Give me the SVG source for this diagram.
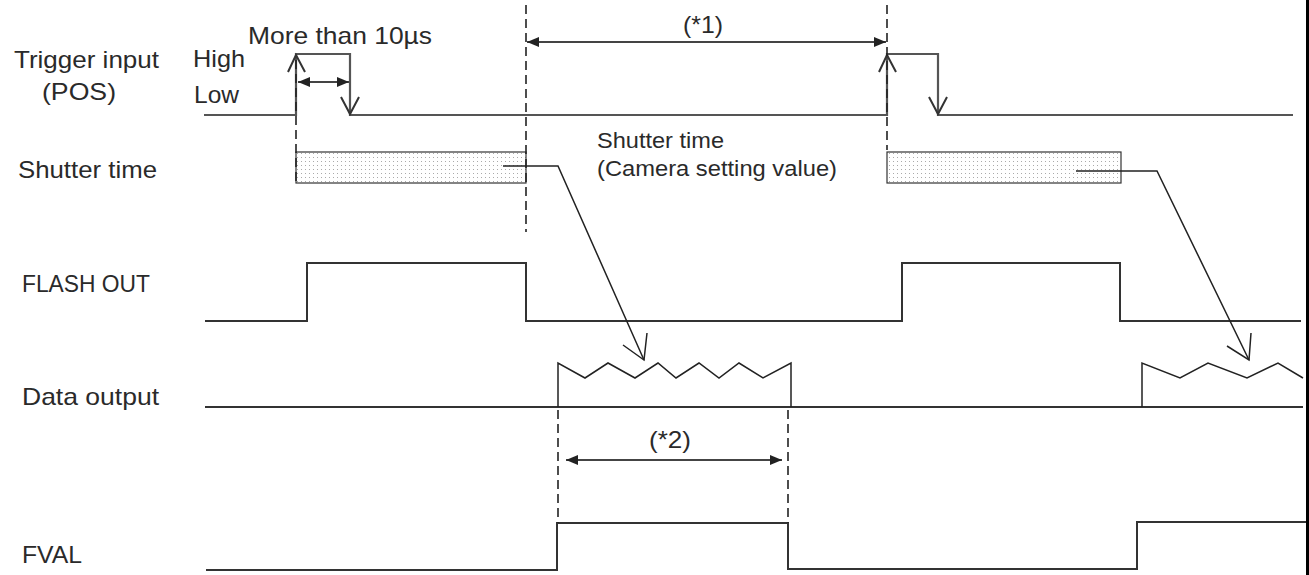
<svg xmlns="http://www.w3.org/2000/svg" width="1309" height="575" viewBox="0 0 1309 575">
<style>
text{font-family:"Liberation Sans",Arial,sans-serif;fill:#2a2a2a;font-size:24px}
.m{font-size:22px}
.sig{fill:none;stroke:#333;stroke-width:2}
.trg{fill:none;stroke:#555;stroke-width:2.2}
.thin{fill:none;stroke:#222;stroke-width:1.5}
.dash{fill:none;stroke:#222;stroke-width:1.6;stroke-dasharray:9 5}
.dim{fill:none;stroke:#444;stroke-width:2;marker-start:url(#fa);marker-end:url(#fa)}
.head{fill:none;stroke:#333;stroke-width:2}
</style>
<defs>
<marker id="fa" viewBox="0 0 12 10" refX="12" refY="5" markerWidth="12" markerHeight="10" markerUnits="userSpaceOnUse" orient="auto-start-reverse">
<path d="M0,0 L12,5 L0,10 z" fill="#222"/>
</marker>
<pattern id="dots" width="4" height="4" patternUnits="userSpaceOnUse">
<rect width="4" height="4" fill="#fff"/>
<rect x="1" y="1" width="1" height="1" fill="#aaa"/>
</pattern>
</defs>
<rect width="1309" height="575" fill="#fff"/>
<rect x="1306" y="0" width="3" height="575" fill="#000"/>

<g id="labels">
<text x="14" y="68" textLength="145" lengthAdjust="spacingAndGlyphs">Trigger input</text>
<text x="42" y="100" textLength="74" lengthAdjust="spacingAndGlyphs">(POS)</text>
<text x="193" y="67" textLength="52" lengthAdjust="spacingAndGlyphs">High</text>
<text x="194" y="103" textLength="45" lengthAdjust="spacingAndGlyphs">Low</text>
<text x="18" y="178" textLength="139" lengthAdjust="spacingAndGlyphs">Shutter time</text>
<text x="22" y="292" textLength="128" lengthAdjust="spacingAndGlyphs">FLASH OUT</text>
<text x="22" y="405" textLength="137" lengthAdjust="spacingAndGlyphs">Data output</text>
<text x="22" y="563" textLength="60" lengthAdjust="spacingAndGlyphs">FVAL</text>
</g>

<g id="trigger">
<polyline class="trg" points="204,115 296,115 296,54 350,54 350,115 887,115 887,54 938,54 938,115 1293,115"/>
<polyline class="head" points="288,72 296,55 305,72"/>
<polyline class="head" points="341,97 350,114 359,97"/>
<polyline class="head" points="879,72 887,55 896,72"/>
<polyline class="head" points="929,97 938,114 947,97"/>
</g>

<g id="shutter">
<rect x="296" y="152" width="230" height="31" fill="url(#dots)" stroke="#333" stroke-width="1.2"/>
<rect x="887" y="152" width="234" height="31" fill="url(#dots)" stroke="#333" stroke-width="1.2"/>
<text class="m" x="597" y="148" textLength="127" lengthAdjust="spacingAndGlyphs">Shutter time</text>
<text class="m" x="597" y="176" textLength="240" lengthAdjust="spacingAndGlyphs">(Camera setting value)</text>
</g>

<g id="flash">
<polyline class="sig" points="205,321 307,321 307,263 526,263 526,321 902,321 902,263 1120,263 1120,321 1301,321"/>
</g>

<g id="data">
<polyline class="sig" points="205,407 1303,407"/>
<polyline class="thin" points="558,407 558,363 585,378 608,363 635,378 658,363 676,378 699,363 719,378 739,363 763,378 791,363 791,407"/>
<polyline class="thin" points="1142,407 1142,363 1180,378 1208,363 1247,378 1278,363 1303,378"/>
</g>

<g id="fval">
<polyline class="sig" points="206,570 557,570 557,523 788,523 788,569 1137,569 1137,522 1306,522"/>
</g>

<g id="connectors">
<line class="dash" x1="296" y1="60" x2="296" y2="186"/>
<line class="dash" x1="526" y1="5" x2="526" y2="232"/>
<line class="dash" x1="887" y1="5" x2="887" y2="150"/>
<line class="dash" x1="558" y1="410" x2="558" y2="523"/>
<line class="dash" x1="788" y1="410" x2="788" y2="523"/>
<line class="dim" x1="527" y1="42" x2="886" y2="42"/>
<line class="dim" x1="298" y1="82" x2="349" y2="82"/>
<line class="dim" x1="566" y1="460" x2="782" y2="460"/>
<polyline class="thin" points="503,166 558,166 644,360"/>
<polyline class="thin" points="623,345 644,360 647,333"/>
<polyline class="thin" points="1076,171 1157,171 1249,360"/>
<polyline class="thin" points="1227,346 1249,360 1251,333"/>
<text x="683" y="33" textLength="40" lengthAdjust="spacingAndGlyphs">(*1)</text>
<text x="649" y="448" textLength="42" lengthAdjust="spacingAndGlyphs">(*2)</text>
<text x="248" y="44" textLength="184" lengthAdjust="spacingAndGlyphs">More than 10µs</text>
</g>
</svg>
